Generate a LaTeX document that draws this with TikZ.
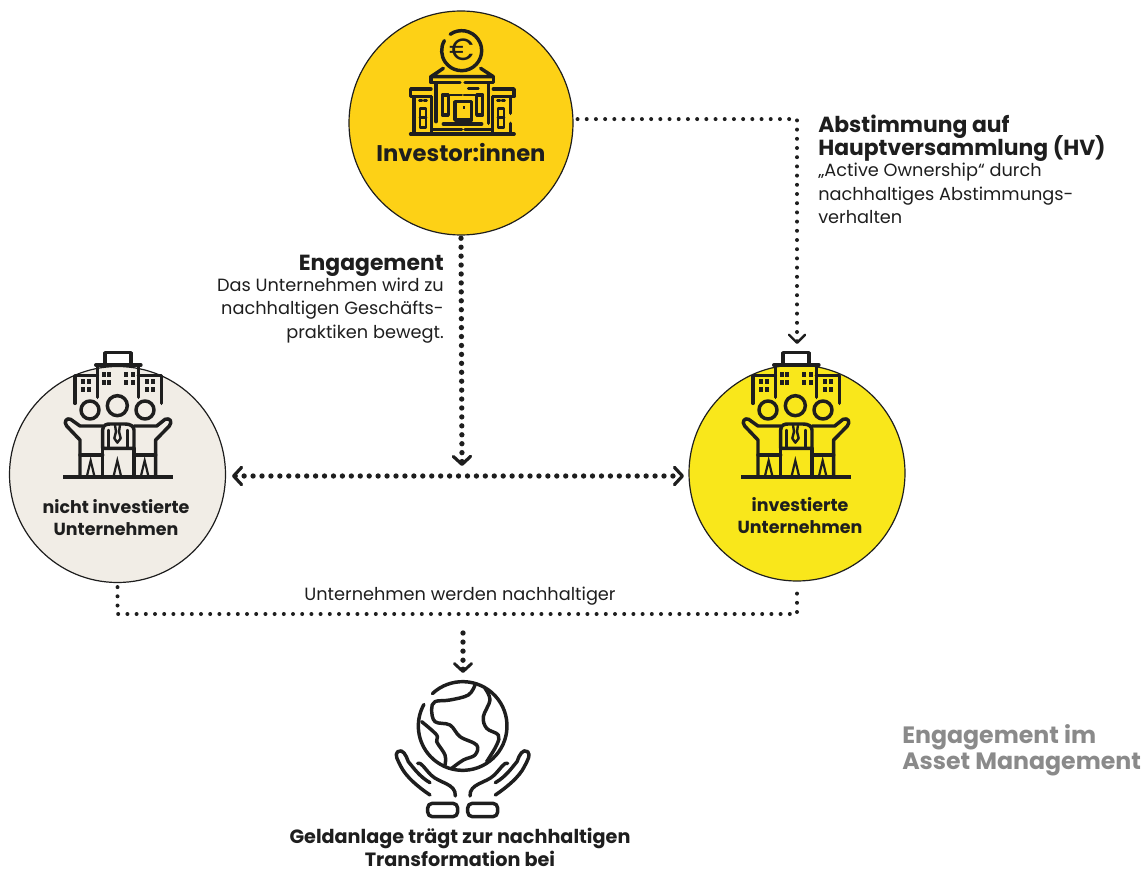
\documentclass[tikz,border=0pt]{standalone}
\usepackage{fontspec}
\setmainfont{Poppins}
\usetikzlibrary{arrows.meta}
\lineskiplimit=-20pt\relax
\definecolor{ink}{HTML}{1E1E1E}
\definecolor{goldc}{HTML}{FDD116}
\definecolor{yellowc}{HTML}{F9E71B}
\definecolor{beigec}{HTML}{F1EDE6}
\definecolor{greyt}{HTML}{8A8A8A}
\tikzset{
  disc/.style={circle,draw=ink,line width=.9pt,inner sep=0pt,minimum size=#1},
  dotthin/.style={draw=ink,line width=3pt,line cap=round,dash pattern=on 0pt off 6.9pt},
  dotthick/.style={draw=ink,line width=4pt,line cap=round,dash pattern=on 0pt off 6.7pt},
  icon/.style={draw=ink,line width=2.6pt,line cap=round,line join=round},
  zoomed/.style={x=.25pt,y=-.25pt},
  txt/.style={inner sep=0pt,text=ink,font=\fontsize{13.3}{17.6}\selectfont},
  head/.style={inner sep=0pt,text=ink,font=\fontsize{16.4}{17.2}\selectfont\bfseries},
  small/.style={inner sep=0pt,text=ink,font=\fontsize{13.1}{17}\selectfont\bfseries},
}
\newcommand{\peopleicon}{%
  \draw[icon] (315,72) -- (315,38) -- (393,38) -- (393,72);
  \draw[icon,line width=3pt] (288,75) -- (422,75);
  \draw[icon] (292,75) -- (292,172) (415,75) -- (415,172);
  \draw[icon] (292,107) -- (225,107) -- (225,190) (415,107) -- (485,107) -- (485,190);
  \foreach \px/\py in {305/97,322/97,305/120,322/120,372/97,392/97,372/120,392/120,
                       243/118,262/118,243/142,262/142,435/118,454/118,435/142,454/142}
    \fill[ink] (\px,\py) rectangle ++(12,15);
  \draw[icon] (270,210) circle[radius=27] (352,197) circle[radius=30] (435,210) circle[radius=27];
  % central person
  \draw[icon] (308,325) -- (308,270) .. controls (308,255) and (320,252) .. (330,252) -- (375,252) .. controls (390,252) and (402,258) .. (402,270) -- (402,325) -- cycle;
  \draw[icon,line width=1.8pt] (325,325) -- (325,270) (382,325) -- (382,270);
  \draw[icon,line width=1.8pt] (345,255) -- (348,275) -- (343,295) -- (352,308) -- (362,295) -- (357,275) -- (360,255);
  \draw[icon] (308,325) -- (308,410) (402,325) -- (402,410);
  % side persons
  \draw[icon] (308,258) -- (240,258) -- (212,238) .. controls (200,232) and (190,245) .. (200,258) -- (240,300) -- (240,410);
  \draw[icon] (402,258) -- (470,258) -- (495,238) .. controls (510,232) and (518,245) .. (508,258) -- (467,300) -- (467,410);
  \draw[icon] (240,345) -- (308,345) (402,345) -- (467,345);
  % trousers
  \foreach \mx in {272,352,434}
    \fill[ink] (\mx-15,410) -- (\mx,348) -- (\mx+15,410) -- (\mx+8,410) -- (\mx,375) -- (\mx-8,410) -- cycle;
  \draw[icon,line width=2.8pt,line cap=butt] (190,412) -- (520,412);
}
\begin{document}
\begin{tikzpicture}[x=.75pt,y=-.75pt]
\useasboundingbox (0,0) rectangle (1147,870);
% discs
\node[disc=168pt,fill=goldc] (inv) at (461,123) {};
\node[disc=162pt,fill=beigec] (lc) at (117.5,474.5) {};
\node[disc=162pt,fill=yellowc] (rc) at (797,473) {};
% free connector ends
\coordinate (rtip) at (797,344);
\coordinate (midtip) at (462,466);
\coordinate (hl) at (232,476);
\coordinate (hr) at (684,476);
\coordinate (bot) at (463,614);
\coordinate (gs) at (463,633);
\coordinate (gt) at (463,673);
% connectors
\draw[dotthin,shorten <=3pt,-{Straight Barb[length=6pt,width=12pt,line width=1.8pt,round]}] (inv.2.5) -| (rtip);
\draw[dotthick,shorten <=2pt,-{Straight Barb[length=6pt,width=13pt,line width=2.4pt,round]}] (inv.south) -- (midtip);
\draw[dotthick,{Straight Barb[length=6pt,width=13pt,line width=2.4pt,round]}-{Straight Barb[length=6pt,width=13pt,line width=2.4pt,round]}] (hl) -- (hr);
\draw[dotthin,shorten >=3pt,shorten <=3pt] (lc.south) |- (bot) -| (rc.south);
\draw[dotthick,dash pattern=on 0pt off 6.8pt,-{Straight Barb[length=6pt,width=13pt,line width=2.2pt,round]}] (gs) -- (gt);
% bank icon
\begin{scope}[shift={(350,0)},zoomed]
  \draw[icon] (335,152) ++(-125:60) arc[start angle=-125,delta angle=335,radius=60];
  \node[inner sep=0pt,text=ink,font=\fontsize{23}{23}\selectfont] (euro) at (335,150) {€};
  \draw[icon] (280,205) -- (243,230) -- (430,230) -- (392,205);
  \draw[icon] (243,230) -- (243,248) -- (330,248) (345,248) -- (430,248) -- (430,230);
  \draw[icon] (258,250) -- (258,365) (415,250) -- (415,370);
  \draw[icon] (243,267) -- (182,267) -- (182,290) -- (243,290);
  \draw[icon] (430,267) -- (492,267) -- (492,290) -- (430,290);
  \draw[icon] (192,292) -- (192,400) (482,292) -- (482,340) (482,370) -- (482,400);
  \draw[icon] (245,290) -- (245,400) (428,290) -- (428,400);
  \draw[icon,line width=2pt] (210,325) rectangle (228,382) (444,325) rectangle (462,382);
  \draw[icon,line width=2pt] (210,352) -- (228,352) (444,352) -- (462,352);
  \draw[icon] (277,285) rectangle (295,345) (380,285) rectangle (398,345);
  \draw[icon] (315,305) rectangle (365,360);
  \fill[ink] (340,318) rectangle ++(6,8);
  \draw[icon,line width=2pt] (300,285) -- (335,285) (342,285) -- (375,285) (355,265) -- (385,265);
  \draw[icon,line width=1.8pt] (208,302) -- (216,302) (222,302) -- (230,302) (442,302) -- (450,302) (456,302) -- (464,302);
  \draw[icon] (280,372) -- (395,372);
  \draw[icon] (250,388) -- (335,388) (345,388) -- (425,388);
  \draw[icon,line width=2.8pt] (182,402) -- (492,402);
\end{scope}
% people icons
\begin{scope}[shift={(0,340)},zoomed]\peopleicon\end{scope}
\begin{scope}[shift={(678,340)},zoomed]\peopleicon\end{scope}
% globe and hands
\begin{scope}[shift={(340,620)},zoomed]
  \draw[icon] (368,318) ++(-133:133) arc[start angle=-133,delta angle=342,radius=133];
  \draw[icon] plot[smooth,tension=.6] coordinates {(405,195) (385,225) (330,240) (285,245) (275,268) (285,305) (330,315) (360,350) (410,375) (405,405) (370,420) (335,445)};
  \draw[icon] plot[smooth,tension=.6] coordinates {(245,305) (290,345) (290,365) (315,405) (315,435)};
  \draw[icon] plot[smooth,tension=.6] coordinates {(435,205) (450,240) (430,290) (440,325) (475,345) (470,375) (440,425)};
  \foreach \sgn in {1,-1}{
    \begin{scope}[shift={(368,0)},xscale=\sgn]
      \draw[icon] (-98,525) .. controls (-135,500) and (-170,470) .. (-185,440) .. controls (-195,420) and (-205,405) .. (-195,395) .. controls (-180,385) and (-170,405) .. (-163,425) .. controls (-150,440) and (-130,470) .. (-98,488);
      \draw[icon] (-135,430) .. controls (-125,425) and (-115,445) .. (-95,465) .. controls (-70,490) and (-20,490) .. (-22,528);
      \draw[icon,rounded corners=3.5pt] (-15,550) rectangle (-105,590);
    \end{scope}}
\end{scope}
% labels
\node[inner sep=0pt,text=ink,font=\fontsize{17}{17}\selectfont\bfseries,anchor=base] (tinv) at (461,162) {Investor:innen};
\node[head,anchor=base east] (t1) at (444,271) {Engagement};
\node[txt,anchor=north east,align=right] (t2) at (444,277.5) {Das Unternehmen wird zu\\nachhaltigen Geschäfts-\\praktiken bewegt.};
\node[head,anchor=north west,align=left] (t3) at (818,115) {Abstimmung auf\\Hauptversammlung (HV)};
\node[txt,anchor=north west,align=left] (t4) at (818,163) {„Active Ownership“ durch\\nachhaltiges Abstimmungs-\\verhalten};
\node[small,align=center,anchor=north] (t5) at (116,499) {nicht investierte\\Unternehmen};
\node[small,align=center,anchor=north] (t6) at (800,497) {investierte\\Unternehmen};
\node[txt,anchor=base] (t7) at (460,600) {Unternehmen werden nachhaltiger};
\node[small,align=center,anchor=north,font=\fontsize{14.4}{17}\selectfont\bfseries] (t8) at (460,828) {Geldanlage trägt zur nachhaltigen\\Transformation bei};
\node[inner sep=0pt,text=greyt,font=\fontsize{17.75}{19.5}\selectfont\bfseries,align=left,anchor=north west] (t9) at (902,724.5) {Engagement im\\Asset Management};
\end{tikzpicture}
\end{document}
